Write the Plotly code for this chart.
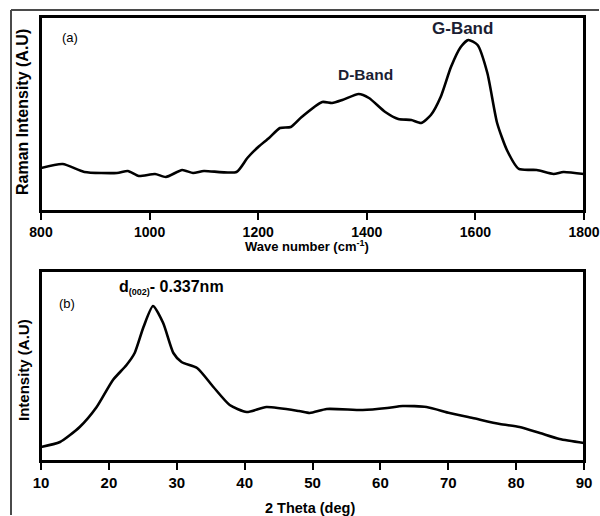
import plotly.graph_objects as go
from plotly.subplots import make_subplots

# Raman spectrum (panel a)
raman_x = [800, 840, 880, 940, 960, 980, 1010, 1030, 1060, 1080, 1100, 1160, 1180, 1200, 1220,
           1240, 1260, 1280, 1318, 1336, 1355, 1385, 1404, 1434, 1458, 1482, 1500, 1518, 1536,
           1555, 1573, 1587, 1604, 1622, 1640, 1658, 1680, 1713, 1744, 1762, 1800]
raman_y = [43, 47, 39, 38, 40, 35, 37, 34, 41, 38, 40, 39, 53, 64, 73,
           83, 84, 94, 109, 108, 111, 117, 113, 99, 92, 91, 88, 96, 114,
           144, 164, 171, 166, 138, 88, 61, 42, 41, 37, 39, 37]

# XRD pattern (panel b)
xrd_x = [10, 12.8, 15.7, 18.2, 20.6, 22.6, 23.8, 25.1, 26.5, 28, 29.5, 30.7, 33, 35.4, 37.8,
         40.3, 43.2, 48, 49.6, 52.1, 57.4, 61, 63.3, 66.8, 70.2, 73.6, 77.6, 80.5, 83.5, 86.4, 90]
xrd_y = [14, 19, 34, 54, 81, 96, 108, 134, 155, 138, 108, 99, 93, 74, 56,
         49, 54, 50, 48, 52, 51, 53, 55, 54, 48, 43, 37, 34, 28, 22, 18]

raman_ticks = [800, 1000, 1200, 1400, 1600, 1800]
xrd_ticks = [10, 20, 30, 40, 50, 60, 70, 80, 90]

FONT = "Arial, Liberation Sans, sans-serif"
INK = "#000000"
NAVY = "#1b1e33"

fig = make_subplots(rows=2, cols=1, vertical_spacing=0.1)
fig.add_trace(go.Scatter(x=raman_x, y=raman_y, mode="lines",
                         line=dict(color=INK, width=2.6, shape="spline", smoothing=0.6)),
              row=1, col=1)
fig.add_trace(go.Scatter(x=xrd_x, y=xrd_y, mode="lines",
                         line=dict(color=INK, width=2.6, shape="spline", smoothing=0.6)),
              row=2, col=1)

fig.update_xaxes(showline=True, linecolor=INK, linewidth=2, mirror=True, automargin=False,
                 showgrid=False, zeroline=False,
                 ticks="outside", ticklen=7, tickwidth=2, tickcolor=INK)
fig.update_yaxes(showline=True, linecolor=INK, linewidth=2, mirror=True, automargin=False,
                 showgrid=False, zeroline=False, showticklabels=False, ticks="")

fig.update_xaxes(range=[800, 1800], tickvals=raman_ticks, domain=[0, 1],
                 tickfont=dict(family=FONT, size=14, color=INK, weight="bold"), row=1, col=1)
fig.update_xaxes(range=[10, 90], tickvals=xrd_ticks, domain=[0, 1],
                 tickfont=dict(family=FONT, size=15, color=INK, weight="bold"), row=2, col=1)
fig.update_yaxes(range=[0, 194], domain=[0.5631, 1.0], row=1, col=1)
fig.update_yaxes(range=[0, 190], domain=[0.0, 0.4279], row=2, col=1)


def px(xp):
    return (xp - 41) / 543


def py(yp):
    return (461 - yp) / 444


anns = [
    dict(text="(a)", x=px(70), y=py(38), font=dict(family=FONT, size=13, color=INK)),
    dict(text="D-Band", x=px(365), y=py(74),
         font=dict(family=FONT, size=15.5, color=NAVY, weight="bold")),
    dict(text="G-Band", x=px(462), y=py(29),
         font=dict(family=FONT, size=17, color=NAVY, weight="bold")),
    dict(text="(b)", x=px(67), y=py(303), font=dict(family=FONT, size=13, color=INK)),
    dict(text="d<sub><span style='font-size:9px'>(002)</span></sub>- 0.337nm",
         x=px(171), y=py(287), font=dict(family=FONT, size=16, color=INK, weight="bold")),
    dict(text="Wave number (cm<sup><span style='font-size:9px'>-1</span></sup>)",
         x=px(307), y=py(246),
         font=dict(family=FONT, size=13, color=INK, weight="bold")),
    dict(text="2 Theta (deg)", x=px(310), y=py(508),
         font=dict(family=FONT, size=14.5, color=INK, weight="bold")),
    dict(text="Raman Intensity (A.U)", textangle=-90, x=px(22), y=py(112),
         font=dict(family=FONT, size=16, color=INK, weight="bold")),
    dict(text="Intensity (A.U)", textangle=-90, x=px(23), y=py(370),
         font=dict(family=FONT, size=15, color=INK, weight="bold")),
]
for a in anns:
    a.update(showarrow=False, xanchor="center", yanchor="middle", xref="paper", yref="paper")

frame_col = "#4a4a4a"
shapes = [
    dict(type="line", xref="paper", yref="paper", x0=px(11), x1=px(11),
         y0=py(10), y1=py(515), line=dict(color=frame_col, width=2)),
    dict(type="line", xref="paper", yref="paper", x0=px(11), x1=px(599),
         y0=py(10), y1=py(10), line=dict(color=frame_col, width=2)),
    dict(type="rect", xref="x domain", yref="y domain", x0=0, x1=1, y0=0, y1=1,
         line=dict(color=INK, width=2)),
    dict(type="rect", xref="x2 domain", yref="y2 domain", x0=0, x1=1, y0=0, y1=1,
         line=dict(color=INK, width=2)),
]

fig.update_layout(width=600, height=516, margin=dict(l=41, r=16, t=17, b=55, autoexpand=False),
                  plot_bgcolor="white", paper_bgcolor="white", showlegend=False,
                  annotations=anns, shapes=shapes,
                  font=dict(family=FONT, color=INK))

fig.write_html("out.html")
